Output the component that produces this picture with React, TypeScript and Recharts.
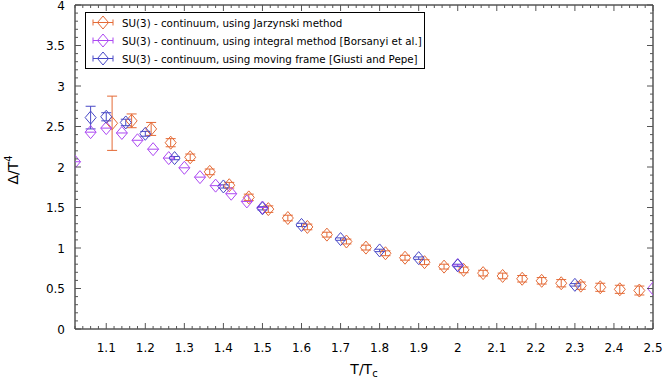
import React from 'react';
import { ScatterChart, Scatter, XAxis, YAxis, ErrorBar, Legend, Label, ReferenceLine } from 'recharts';

// ---- Data ----
const jarzynskiT = [1.115, 1.165, 1.215, 1.265, 1.315, 1.365, 1.415, 1.465, 1.515, 1.565, 1.615, 1.665, 1.715, 1.765, 1.815, 1.865, 1.915, 1.965, 2.015, 2.065, 2.115, 2.165, 2.215, 2.265, 2.315, 2.365, 2.415, 2.465];
const jarzynskiVal = [2.54, 2.57, 2.47, 2.30, 2.12, 1.94, 1.775, 1.625, 1.48, 1.37, 1.26, 1.165, 1.08, 1.005, 0.935, 0.88, 0.825, 0.77, 0.73, 0.69, 0.655, 0.62, 0.595, 0.565, 0.535, 0.515, 0.49, 0.475];
const jarzynskiErr = [0.335, 0.085, 0.08, 0.05, 0.04, 0.035, 0.035, 0.04, 0.04, 0.035, 0.035, 0.03, 0.03, 0.03, 0.03, 0.03, 0.03, 0.03, 0.035, 0.035, 0.035, 0.04, 0.04, 0.045, 0.045, 0.05, 0.05, 0.055];

const integralT = [1.02, 1.06, 1.10, 1.14, 1.18, 1.22, 1.26, 1.30, 1.34, 1.38, 1.42, 1.46, 1.50, 2.00, 2.50];
const integralVal = [2.065, 2.43, 2.48, 2.42, 2.33, 2.22, 2.11, 1.99, 1.875, 1.77, 1.67, 1.575, 1.50, 0.79, 0.50];

const movingT = [1.06, 1.10, 1.15, 1.20, 1.275, 1.40, 1.50, 1.60, 1.70, 1.80, 1.90, 2.00, 2.30];
const movingVal = [2.61, 2.62, 2.55, 2.41, 2.11, 1.76, 1.49, 1.285, 1.11, 0.97, 0.875, 0.785, 0.545];
const movingErr = [0.14, 0.05, 0.04, 0.03, 0.02, 0.02, 0.02, 0.02, 0.015, 0.015, 0.015, 0.015, 0.015];

const seriesNames = [
  'SU(3) - continuum, using Jarzynski method',
  'SU(3) - continuum, using integral method [Borsanyi et al.]',
  'SU(3) - continuum, using moving frame [Giusti and Pepe]',
];
const seriesColors = ['#e46a36', '#ac48f2', '#4848c6'];

const X_DOMAIN: [number, number] = [1.02, 2.5];
const Y_DOMAIN: [number, number] = [0, 4];

// tick lists (minor + major)
const xTicks: number[] = [];
for (let i = 51; i <= 125; i++) xTicks.push(Math.round(i * 2) / 100);
const yTicks: number[] = [];
for (let i = 0; i <= 40; i++) yTicks.push(i / 10);

const jarzynskiData = jarzynskiT.map((t, i) => ({ t, v: jarzynskiVal[i], err: jarzynskiErr[i] }));
const integralData = integralT.map((t, i) => ({ t, v: integralVal[i] }));
const movingData = movingT.map((t, i) => ({ t, v: movingVal[i], err: movingErr[i] }));

// layout
const CHART_W = 664;
const CHART_H = 385;
const MARGIN = { top: 5, right: 11, left: 0, bottom: 0 };
const PLOT_TOP = MARGIN.top;
const PLOT_RIGHT = CHART_W - MARGIN.right;

const FONT = '"DejaVu Sans", sans-serif';
const TICK_FS = 12;
const LEG_FS = 10.3;
const TITLE_FS = 14;
const TICK_COLOR = '#555';

const isMajorX = (v: number) => Math.round(v * 100) % 10 === 0;
const isMajorY = (v: number) => Math.round(v * 10) % 5 === 0;
const fmt = (v: number) => String(Math.round(v * 100) / 100);

const BottomTick = (p: any) => {
  const { x, y, payload } = p;
  const major = isMajorX(payload.value);
  const len = major ? 6 : 3;
  return (
    <g>
      <line x1={x} y1={y} x2={x} y2={y - len} stroke={TICK_COLOR} strokeWidth={1} />
      <line x1={x} y1={PLOT_TOP} x2={x} y2={PLOT_TOP + len} stroke={TICK_COLOR} strokeWidth={1} />
      {major && (
        <text x={x} y={y + 23} textAnchor="middle" fontSize={TICK_FS} fontFamily={FONT} fill="#000">
          {fmt(payload.value)}
        </text>
      )}
    </g>
  );
};
const LeftTick = (p: any) => {
  const { x, y, payload } = p;
  const major = isMajorY(payload.value);
  const len = major ? 6 : 3;
  return (
    <g>
      <line x1={x} y1={y} x2={x + len} y2={y} stroke={TICK_COLOR} strokeWidth={1} />
      <line x1={PLOT_RIGHT} y1={y} x2={PLOT_RIGHT - len} y2={y} stroke={TICK_COLOR} strokeWidth={1} />
      {major && (
        <text x={x - 10} y={y + 4.5} textAnchor="end" fontSize={TICK_FS} fontFamily={FONT} fill="#000">
          {fmt(payload.value)}
        </text>
      )}
    </g>
  );
};

const HW = 5.5;
const HH = 6.5;
const diamond = (cx: number, cy: number) =>
  `M${cx},${cy - HH} L${cx + HW},${cy} L${cx},${cy + HH} L${cx - HW},${cy} Z`;

const makeShape = (color: string, hline: boolean) => (p: any) => {
  const { cx, cy } = p;
  if (cx == null || cy == null) return <g />;
  return (
    <g>
      <path d={diamond(cx, cy)} fill="none" stroke={color} strokeWidth={1} />
      {hline && <line x1={cx - HW} y1={cy} x2={cx + HW} y2={cy} stroke={color} strokeWidth={1} />}
    </g>
  );
};

const renderLegend = () => (
  <svg width={341} height={58} style={{ display: 'block' }}>
    <rect x={0.5} y={0.5} width={339} height={56} fill="#fff" stroke="#000" strokeWidth={1} />
    {seriesNames.map((name, i) => {
      const cy = 10.5 + i * 18;
      const c = seriesColors[i];
      return (
        <g key={name}>
          <line x1={8} y1={cy} x2={28} y2={cy} stroke={c} strokeWidth={1} />
          <line x1={8} y1={cy - 3} x2={8} y2={cy + 3} stroke={c} strokeWidth={1} />
          <line x1={28} y1={cy - 3} x2={28} y2={cy + 3} stroke={c} strokeWidth={1} />
          <path d={`M18,${cy - HH} L${18 + HW},${cy} L18,${cy + HH} L${18 - HW},${cy} Z`} fill="none" stroke={c} strokeWidth={1} />
          <text x={37} y={cy + 4} fontSize={LEG_FS} fontFamily={FONT} fill="#000">{name}</text>
        </g>
      );
    })}
  </svg>
);

const XLabel = (p: any) => {
  const vb = p.viewBox;
  const cx = vb.x + vb.width / 2;
  return (
    <text x={cx} y={vb.y + 45} textAnchor="middle" fontSize={TITLE_FS} fontFamily={FONT} fill="#000">
      T/T<tspan dy={3} fontSize={10}>c</tspan>
    </text>
  );
};
const YLabel = (p: any) => {
  const vb = p.viewBox;
  const cx = 13;
  const cy = vb.y + vb.height / 2 + 3;
  return (
    <text x={cx} y={cy} transform={`rotate(-90, ${cx}, ${cy})`} textAnchor="middle" fontSize={TITLE_FS} fontFamily={FONT} fill="#000" dy={5}>
      Δ/T<tspan dy={-6} fontSize={10}>4</tspan>
    </text>
  );
};

export default function App() {
  return (
    <div style={{ position: 'absolute', left: 0, top: 0, width: CHART_W, height: CHART_H, background: '#fff' }}>
      <ScatterChart width={CHART_W} height={CHART_H} margin={MARGIN}>
        <XAxis
          xAxisId="b"
          dataKey="t"
          type="number"
          domain={X_DOMAIN}
          allowDataOverflow
          ticks={xTicks}
          interval={0}
          tickSize={0}
          tickMargin={0}
          tickLine={false}
          tick={<BottomTick />}
          height={56}
          axisLine={{ stroke: '#000' }}
          label={<Label content={<XLabel />} />}
        />
        <YAxis
          yAxisId="l"
          dataKey="v"
          type="number"
          domain={Y_DOMAIN}
          allowDataOverflow
          ticks={yTicks}
          interval={0}
          tickSize={0}
          tickMargin={0}
          tickLine={false}
          tick={<LeftTick />}
          width={75}
          axisLine={{ stroke: '#000' }}
          label={<Label content={<YLabel />} />}
        />
        <ReferenceLine xAxisId="b" yAxisId="l" y={Y_DOMAIN[1]} stroke="#000" strokeWidth={1} />
        <ReferenceLine xAxisId="b" yAxisId="l" x={X_DOMAIN[1]} stroke="#000" strokeWidth={1} />
        <Legend
          layout="vertical"
          align="center"
          verticalAlign="middle"
          content={renderLegend}
          wrapperStyle={{ left: 85, top: 12, width: 341, height: 58 }}
        />
        <Scatter
          name={seriesNames[0]}
          data={jarzynskiData}
          xAxisId="b"
          yAxisId="l"
          dataKey="v"
          isAnimationActive={false}
          shape={makeShape(seriesColors[0], false)}
        >
          <ErrorBar dataKey="err" direction="y" width={5} stroke={seriesColors[0]} strokeWidth={1} isAnimationActive={false} />
        </Scatter>
        <Scatter
          name={seriesNames[1]}
          data={integralData}
          xAxisId="b"
          yAxisId="l"
          dataKey="v"
          isAnimationActive={false}
          shape={makeShape(seriesColors[1], true)}
        />
        <Scatter
          name={seriesNames[2]}
          data={movingData}
          xAxisId="b"
          yAxisId="l"
          dataKey="v"
          isAnimationActive={false}
          shape={makeShape(seriesColors[2], false)}
        >
          <ErrorBar dataKey="err" direction="y" width={5} stroke={seriesColors[2]} strokeWidth={1} isAnimationActive={false} />
        </Scatter>
      </ScatterChart>
    </div>
  );
}
